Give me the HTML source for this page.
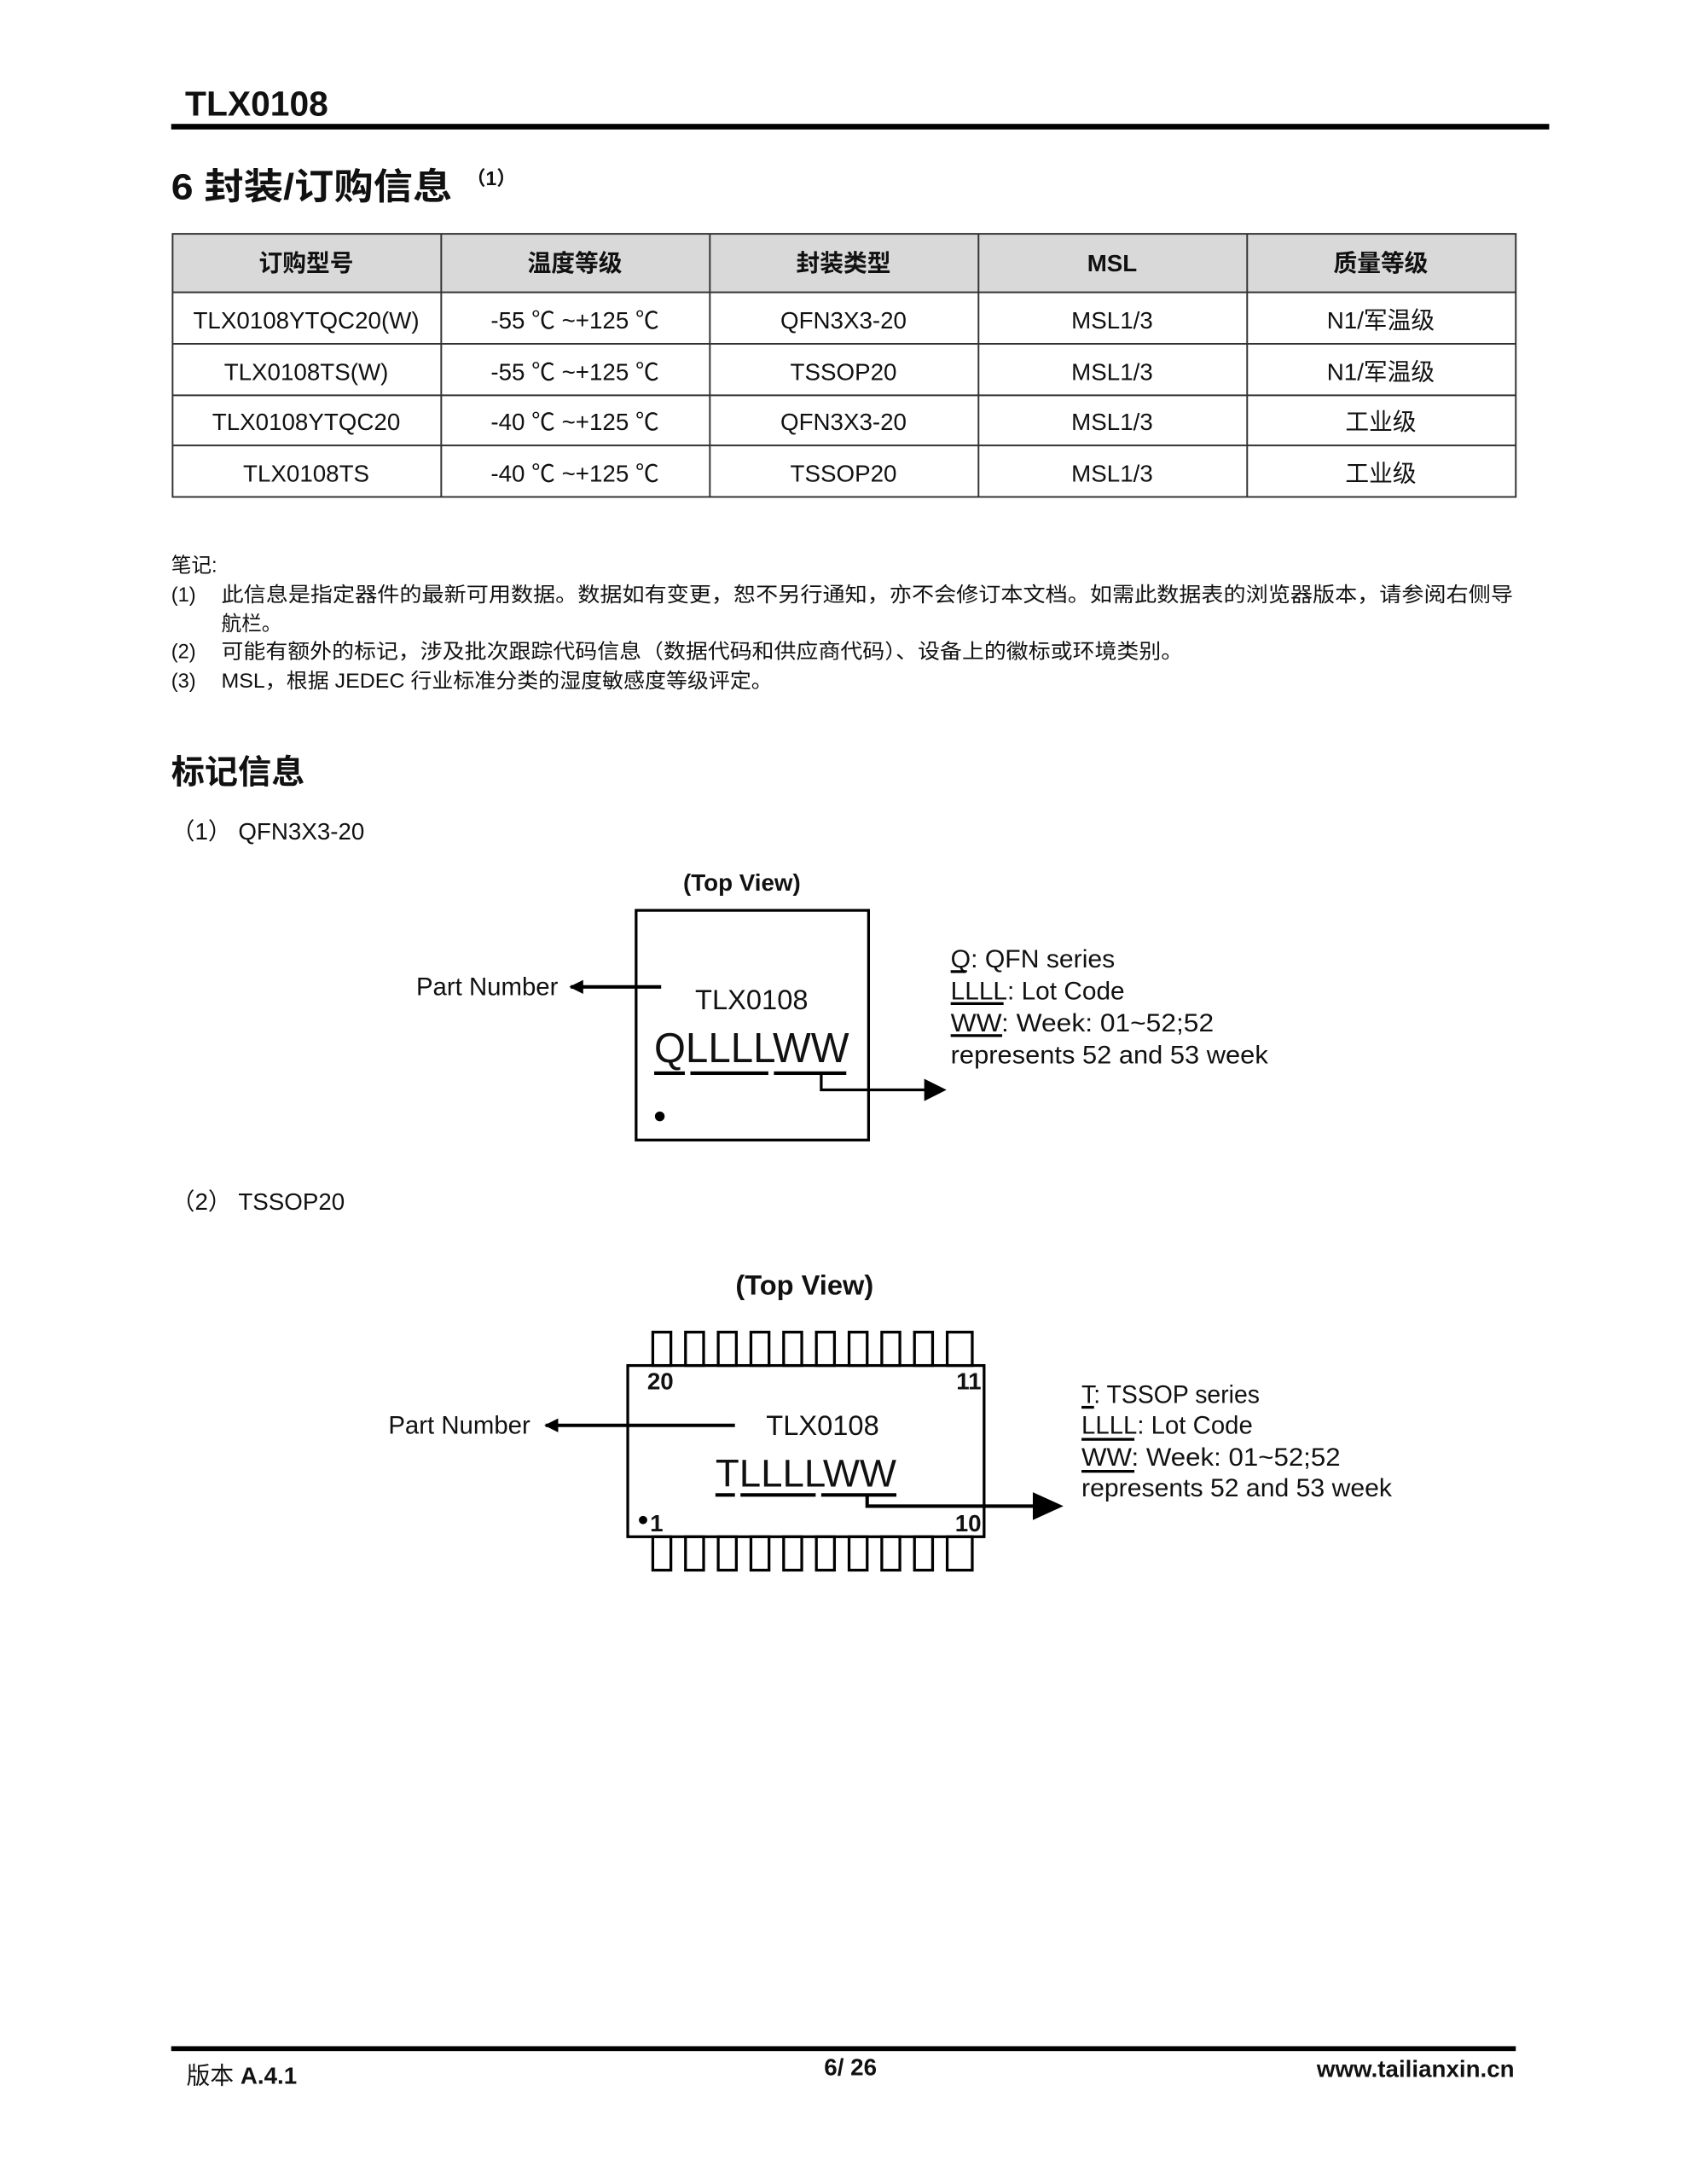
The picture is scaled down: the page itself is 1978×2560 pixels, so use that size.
<!DOCTYPE html>
<html><head><meta charset="utf-8"><style>
html,body{margin:0;padding:0;background:#fff}
svg{display:block}
text{font-family:"Liberation Sans","Noto Sans CJK SC",sans-serif;fill:#111}
.b{font-weight:bold}
</style></head><body>
<svg width="1978" height="2560" viewBox="0 0 1212 1569" preserveAspectRatio="none" xmlns="http://www.w3.org/2000/svg">
<defs>
<marker id="ah" markerWidth="10" markerHeight="10" refX="9" refY="5" orient="auto" markerUnits="userSpaceOnUse">
<path d="M0,0 L10,5 L0,10 Z" fill="#000"/></marker>
</defs>
<text x="133" y="83" font-size="25" class="b">TLX0108</text>
<rect x="123" y="89" width="990" height="4" fill="#000"/>
<text x="123" y="143" font-size="26" class="b" textLength="202" lengthAdjust="spacingAndGlyphs">6 封装/订购信息</text>
<text x="335" y="133" font-size="14" class="b">（1）</text>

<rect x="124" y="168" width="965" height="42" fill="#d9d9d9"/>
<g stroke="#333" stroke-width="1.2" fill="none">
<rect x="124" y="168" width="965" height="189"/>
<line x1="124" y1="210" x2="1089" y2="210"/>
<line x1="124" y1="247" x2="1089" y2="247"/>
<line x1="124" y1="284" x2="1089" y2="284"/>
<line x1="124" y1="320" x2="1089" y2="320"/>
<line x1="317" y1="168" x2="317" y2="357"/>
<line x1="510" y1="168" x2="510" y2="357"/>
<line x1="703" y1="168" x2="703" y2="357"/>
<line x1="896" y1="168" x2="896" y2="357"/>
</g>
<g font-size="17" text-anchor="middle">
<text x="220" y="195" class="b">订购型号</text>
<text x="413" y="195" class="b">温度等级</text>
<text x="606" y="195" class="b">封装类型</text>
<text x="799" y="195" class="b">MSL</text>
<text x="992" y="195" class="b">质量等级</text>
<text x="220" y="236">TLX0108YTQC20(W)</text><text x="413" y="236">-55 ℃ ~+125 ℃</text><text x="606" y="236">QFN3X3-20</text><text x="799" y="236">MSL1/3</text><text x="992" y="236">N1/军温级</text>
<text x="220" y="273">TLX0108TS(W)</text><text x="413" y="273">-55 ℃ ~+125 ℃</text><text x="606" y="273">TSSOP20</text><text x="799" y="273">MSL1/3</text><text x="992" y="273">N1/军温级</text>
<text x="220" y="309">TLX0108YTQC20</text><text x="413" y="309">-40 ℃ ~+125 ℃</text><text x="606" y="309">QFN3X3-20</text><text x="799" y="309">MSL1/3</text><text x="992" y="309">工业级</text>
<text x="220" y="346">TLX0108TS</text><text x="413" y="346">-40 ℃ ~+125 ℃</text><text x="606" y="346">TSSOP20</text><text x="799" y="346">MSL1/3</text><text x="992" y="346">工业级</text>
</g>

<g font-size="14.5">
<text x="123" y="411">笔记:</text>
<text x="123" y="432">(1)</text><text x="159" y="432" textLength="928" lengthAdjust="spacingAndGlyphs">此信息是指定器件的最新可用数据。数据如有变更，恕不另行通知，亦不会修订本文档。如需此数据表的浏览器版本，请参阅右侧导</text>
<text x="159" y="453">航栏。</text>
<text x="123" y="473">(2)</text><text x="159" y="473" textLength="691" lengthAdjust="spacingAndGlyphs">可能有额外的标记，涉及批次跟踪代码信息（数据代码和供应商代码）、设备上的徽标或环境类别。</text>
<text x="123" y="494">(3)</text><text x="159" y="494" textLength="396" lengthAdjust="spacingAndGlyphs">MSL，根据 JEDEC 行业标准分类的湿度敏感度等级评定。</text>
</g>

<text x="123" y="563" font-size="24" class="b">标记信息</text>
<text x="123" y="603" font-size="17">（1） QFN3X3-20</text>

<text x="533" y="640" font-size="17" class="b" text-anchor="middle">(Top View)</text>
<rect x="457" y="654" width="167" height="165" fill="none" stroke="#000" stroke-width="2"/>
<text x="401" y="715" font-size="18" text-anchor="end">Part Number</text>
<line x1="475" y1="709" x2="410" y2="709" stroke="#000" stroke-width="2.5" marker-end="url(#ah)"/>
<text x="540" y="725" font-size="20" text-anchor="middle">TLX0108</text>
<text x="470" y="763" font-size="30" textLength="140" lengthAdjust="spacingAndGlyphs">QLLLLWW</text>
<g stroke="#000" stroke-width="2.5">
<line x1="470" y1="771" x2="492" y2="771"/><line x1="496" y1="771" x2="552" y2="771"/><line x1="556" y1="771" x2="608" y2="771"/>
</g>
<polyline points="590,771 590,783 670,783" fill="none" stroke="#000" stroke-width="2"/>
<path d="M664,775 L680,783 L664,791 Z" fill="#000"/>
<circle cx="474" cy="802" r="3.5" fill="#000"/>
<g font-size="18" lengthAdjust="spacingAndGlyphs">
<text x="683" y="695" textLength="118" lengthAdjust="spacingAndGlyphs">Q: QFN series</text>
<text x="683" y="718" textLength="125" lengthAdjust="spacingAndGlyphs">LLLL: Lot Code</text>
<text x="683" y="741" textLength="189" lengthAdjust="spacingAndGlyphs">WW: Week: 01~52;52</text>
<text x="683" y="764" textLength="228" lengthAdjust="spacingAndGlyphs">represents 52 and 53 week</text>
</g>
<g stroke="#000" stroke-width="2"><line x1="683" y1="698" x2="694" y2="698"/><line x1="683" y1="721" x2="721" y2="721"/><line x1="683" y1="744" x2="720" y2="744"/></g>

<text x="123" y="869" font-size="17">（2） TSSOP20</text>
<text x="578" y="930" font-size="20" class="b" text-anchor="middle">(Top View)</text>
<g fill="none" stroke="#000" stroke-width="2">
<rect x="451" y="981" width="256" height="123"/>
<rect x="469" y="957" width="13" height="24"/><rect x="492.5" y="957" width="13" height="24"/><rect x="516" y="957" width="13" height="24"/><rect x="539.5" y="957" width="13" height="24"/><rect x="563" y="957" width="13" height="24"/><rect x="586.5" y="957" width="13" height="24"/><rect x="610" y="957" width="13" height="24"/><rect x="633.5" y="957" width="13" height="24"/><rect x="657" y="957" width="13" height="24"/><rect x="680.5" y="957" width="18" height="24"/>
<rect x="469" y="1104" width="13" height="24"/><rect x="492.5" y="1104" width="13" height="24"/><rect x="516" y="1104" width="13" height="24"/><rect x="539.5" y="1104" width="13" height="24"/><rect x="563" y="1104" width="13" height="24"/><rect x="586.5" y="1104" width="13" height="24"/><rect x="610" y="1104" width="13" height="24"/><rect x="633.5" y="1104" width="13" height="24"/><rect x="657" y="1104" width="13" height="24"/><rect x="680.5" y="1104" width="18" height="24"/>
</g>
<text x="465" y="998" font-size="17" class="b">20</text>
<text x="705" y="998" font-size="17" class="b" text-anchor="end">11</text>
<circle cx="462" cy="1092" r="3" fill="#000"/>
<text x="467" y="1100" font-size="17" class="b">1</text>
<text x="705" y="1100" font-size="17" class="b" text-anchor="end">10</text>
<text x="381" y="1030" font-size="18" text-anchor="end">Part Number</text>
<line x1="528" y1="1024" x2="392" y2="1024" stroke="#000" stroke-width="2.5" marker-end="url(#ah)"/>
<text x="591" y="1031" font-size="20" text-anchor="middle">TLX0108</text>
<text x="514" y="1068" font-size="28" textLength="130" lengthAdjust="spacingAndGlyphs">TLLLLWW</text>
<g stroke="#000" stroke-width="2.5">
<line x1="514" y1="1074" x2="528" y2="1074"/><line x1="532" y1="1074" x2="586" y2="1074"/><line x1="590" y1="1074" x2="644" y2="1074"/>
</g>
<polyline points="623,1074 623,1082 748,1082" fill="none" stroke="#000" stroke-width="2.5"/>
<path d="M742,1072 L764,1082 L742,1092 Z" fill="#000"/>
<g font-size="18">
<text x="777" y="1008" textLength="128" lengthAdjust="spacingAndGlyphs">T: TSSOP series</text>
<text x="777" y="1030" textLength="123" lengthAdjust="spacingAndGlyphs">LLLL: Lot Code</text>
<text x="777" y="1053" textLength="186" lengthAdjust="spacingAndGlyphs">WW: Week: 01~52;52</text>
<text x="777" y="1075" textLength="223" lengthAdjust="spacingAndGlyphs">represents 52 and 53 week</text>
</g>
<g stroke="#000" stroke-width="2"><line x1="777" y1="1011" x2="786" y2="1011"/><line x1="777" y1="1034" x2="815" y2="1034"/><line x1="777" y1="1057" x2="815" y2="1057"/></g>

<rect x="123" y="1470" width="966" height="3.5" fill="#000"/>
<text x="134" y="1497" font-size="17">版本 <tspan class="b">A.4.1</tspan></text>
<text x="611" y="1491" font-size="17" class="b" text-anchor="middle">6/ 26</text>
<text x="1088" y="1492" font-size="17" class="b" text-anchor="end">www.tailianxin.cn</text>
</svg>
</body></html>
